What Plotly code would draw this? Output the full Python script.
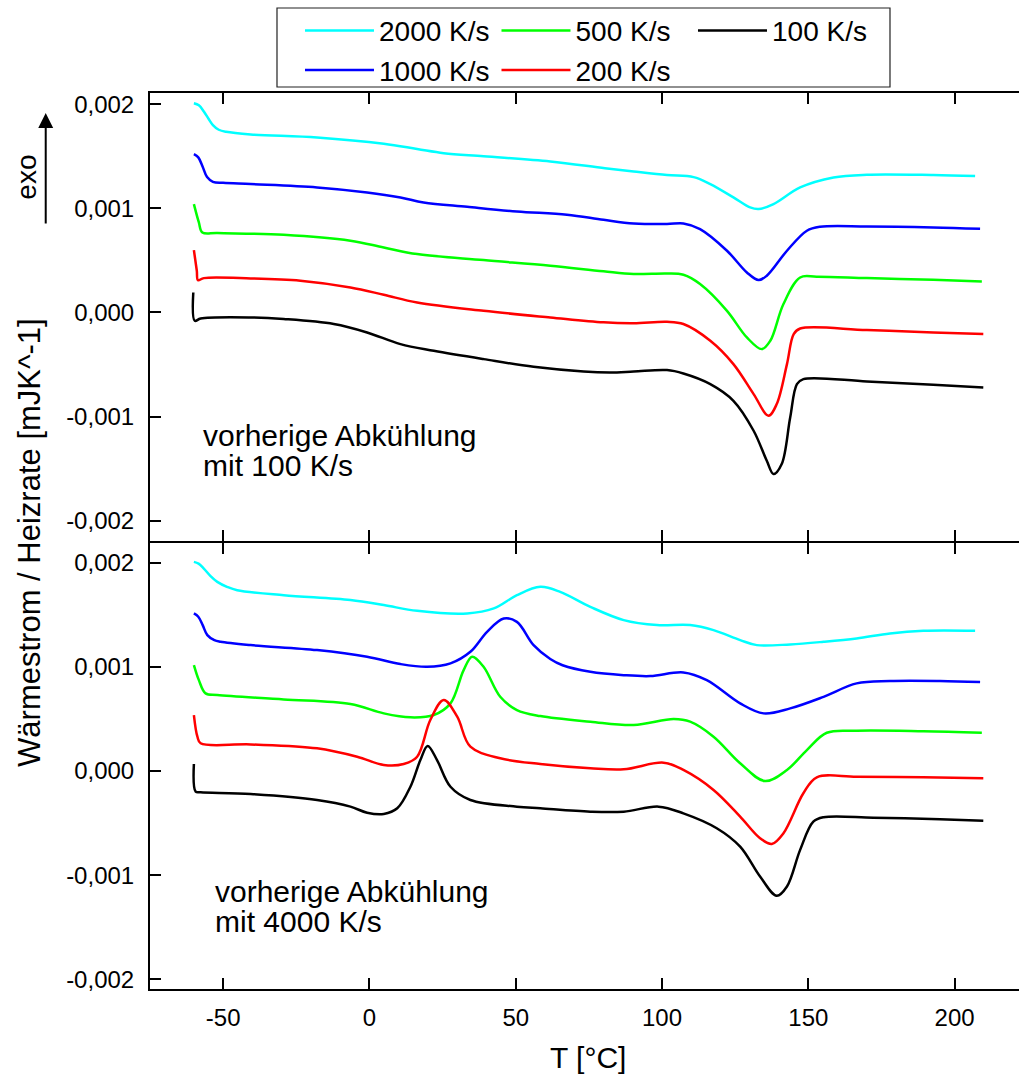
import numpy as np
import plotly.graph_objects as go

# ---- data (heat flow / heating rate in units of 1e-3 mJ/K, temperature in degC) ----
rates = ["2000 K/s", "1000 K/s", "500 K/s", "200 K/s", "100 K/s"]
colors = ["#00FFFF", "#0000FF", "#00FF00", "#FF0000", "#000000"]
groups = ["c1", "c1", "c2", "c2", "c3"]

# upper panel: previous cooling at 100 K/s
top_2000_T = [-60, -58.3, -56.6, -55.0, -53.5, -51.5, -49.0, -40.6, -17.9, 4.9, 16.3, 25.4, 39.0, 61.8, 80.5, 90.3,
              101.7, 110.8, 116.5, 124.4, 130.1, 133.0, 138.1, 147.2, 158.6, 170.0, 192.7, 207.0]
top_2000_y = [2.01, 1.99, 1.93, 1.86, 1.80, 1.755, 1.735, 1.71, 1.68, 1.62, 1.57, 1.53, 1.50, 1.45, 1.385, 1.354,
              1.32, 1.30, 1.233, 1.105, 1.009, 0.993, 1.041, 1.201, 1.297, 1.323, 1.32, 1.31]

top_1000_T = [-60, -58.5, -57.0, -55.5, -53.5, -50.0, -40.6, -17.9, -0.8, 10.6, 18.5, 33.4, 50.4, 67.5, 80.0, 90.3,
              101.7, 107.3, 113.0, 122.2, 129.0, 133.0, 135.8, 142.7, 149.5, 154.0, 170.0, 192.7, 208.7]
top_1000_y = [1.52, 1.49, 1.40, 1.30, 1.255, 1.245, 1.233, 1.201, 1.153, 1.105, 1.057, 1.015, 0.970, 0.939, 0.89, 0.855,
              0.849, 0.855, 0.801, 0.593, 0.384, 0.311, 0.353, 0.593, 0.785, 0.823, 0.826, 0.817, 0.804]

top_500_T = [-60, -58.3, -57.1, -52.0, -29.3, -6.5, 4.9, 16.3, 39.0, 61.8, 80.0, 90.3, 101.7, 107.3,
             113.0, 122.2, 129.0, 134.1, 137.0, 141.5, 147.2, 152.9, 170.0, 192.7, 209.3]
top_500_y = [1.041, 0.865, 0.768, 0.763, 0.746, 0.689, 0.624, 0.561, 0.503, 0.449, 0.395, 0.369, 0.375, 0.362,
             0.273, 0.016, -0.240, -0.352, -0.272, 0.081, 0.336, 0.343, 0.330, 0.314, 0.298]

top_200_T = [-60, -59.0, -58.6, -56.6, -40.6, -23.6, -6.5, 4.9, 16.3, 39.0, 61.8, 80.0, 90.3, 101.7,
             107.3, 116.5, 124.4, 131.3, 136.4, 139.2, 142.7, 145.0, 147.2, 170.0, 192.7, 209.8]
top_200_y = [0.599, 0.401, 0.311, 0.330, 0.327, 0.305, 0.240, 0.170, 0.096, 0.016, -0.048, -0.095, -0.103, -0.090,
             -0.111, -0.272, -0.496, -0.784, -0.992, -0.880, -0.496, -0.207, -0.154, -0.169, -0.192, -0.207]

top_100_T = [-60.2, -59.7, -57.7, -40.6, -29.3, -12.2, -0.8, 10.6, 22.0, 39.0, 56.1, 73.2, 82.3, 90.3,
             101.7, 107.3, 116.5, 124.4, 131.3, 135.8, 138.1, 140.9, 143.8, 146.1, 148.3, 170.0, 192.7, 209.8]
top_100_y = [0.192, -0.080, -0.058, -0.048, -0.063, -0.111, -0.192, -0.304, -0.368, -0.448, -0.522, -0.567, -0.576, -0.567,
             -0.553, -0.586, -0.688, -0.848, -1.136, -1.425, -1.552, -1.456, -1.009, -0.688, -0.640, -0.663, -0.695, -0.720]

# lower panel: previous cooling at 4000 K/s
bot_2000_T = [-60, -58.4, -56.6, -54.3, -52.0, -48.5, -45.2, -29.3, -6.5, 4.9, 16.3, 33.4, 42.5, 50.4, 58.4, 65.2, 75.5,
              86.9, 98.3, 109.6, 117.6, 126.7, 132.4, 143.8, 155.2, 166.5, 177.9, 189.3, 207.0]
bot_2000_y = [2.007, 1.99, 1.943, 1.87, 1.815, 1.765, 1.735, 1.687, 1.640, 1.592, 1.537, 1.512, 1.560, 1.687, 1.767, 1.719, 1.575,
              1.448, 1.400, 1.400, 1.352, 1.256, 1.208, 1.215, 1.240, 1.272, 1.320, 1.345, 1.345]

bot_1000_T = [-60, -58.5, -57.0, -55.4, -53.0, -50.9, -40.6, -17.9, -0.8, 10.6, 19.7, 27.7, 34.5, 40.2, 45.9, 50.4,
              56.1, 61.8, 66.0, 75.5, 86.9, 96.0, 107.3, 115.3, 126.7, 134.7, 143.8, 155.2, 166.5,
              177.9, 195.0, 208.7]
bot_1000_y = [1.512, 1.48, 1.40, 1.304, 1.255, 1.240, 1.208, 1.160, 1.096, 1.026, 1.000, 1.033, 1.144, 1.336, 1.464, 1.431,
              1.208, 1.075, 1.015, 0.952, 0.920, 0.911, 0.946, 0.872, 0.649, 0.553, 0.601, 0.712, 0.841,
              0.863, 0.863, 0.853]

bot_500_T = [-60, -58.3, -56.0, -52.0, -29.3, -6.5, 4.9, 14.0, 22.0, 27.7, 32.2, 35.1, 39.0, 44.7, 50.4,
             58.4, 75.5, 90.3, 104.0, 109.6, 117.6, 126.7, 135.2, 142.7, 149.5, 156.3, 166.5, 189.3, 209.3]
bot_500_y = [1.016, 0.872, 0.745, 0.729, 0.687, 0.642, 0.553, 0.515, 0.537, 0.649, 0.968, 1.096, 1.000, 0.712, 0.585,
             0.527, 0.473, 0.441, 0.499, 0.473, 0.329, 0.074, -0.096, 0.010, 0.201, 0.367, 0.386, 0.381, 0.367]

bot_200_T = [-60, -58.8, -57.7, -40.6, -17.9, -4.2, 4.9, 11.7, 16.3, 20.8, 25.4, 30.0, 34.5, 44.7, 58.4,
             75.5, 86.9, 100.5, 107.3, 117.6, 126.7, 133.5, 137.5, 141.5, 148.3, 152.9, 166.5, 189.3, 209.8]
bot_200_y = [0.537, 0.329, 0.266, 0.255, 0.218, 0.137, 0.058, 0.067, 0.137, 0.489, 0.681, 0.521, 0.233, 0.122, 0.067,
             0.026, 0.016, 0.080, 0.010, -0.182, -0.438, -0.645, -0.700, -0.597, -0.214, -0.060, -0.055, -0.060, -0.070]

bot_100_T = [-60, -59.4, -57.7, -40.6, -17.9, -6.5, -0.8, 4.9, 9.5, 14.0, 17.4, 19.9, 23.1, 27.7, 34.5, 50.4,
             58.4, 75.5, 86.9, 98.8, 107.3, 118.7, 126.7, 133.5, 139.2, 142.7, 147.2, 151.7, 155.2, 172.2, 195.0, 209.8]
bot_100_y = [0.067, -0.198, -0.204, -0.221, -0.278, -0.342, -0.400, -0.412, -0.358, -0.151, 0.105, 0.240, 0.105, -0.151, -0.278, -0.342,
             -0.358, -0.390, -0.390, -0.342, -0.406, -0.549, -0.726, -1.013, -1.198, -1.109, -0.757, -0.486, -0.444, -0.448, -0.463, -0.477]

top_series = [(top_2000_T, top_2000_y), (top_1000_T, top_1000_y), (top_500_T, top_500_y),
              (top_200_T, top_200_y), (top_100_T, top_100_y)]
bot_series = [(bot_2000_T, bot_2000_y), (bot_1000_T, bot_1000_y), (bot_500_T, bot_500_y),
              (bot_200_T, bot_200_y), (bot_100_T, bot_100_y)]

x_ticks = [-50, 0, 50, 100, 150, 200]
x_ticktext = ["-50", "0", "50", "100", "150", "200"]
y_ticks = [-0.002, -0.001, 0.0, 0.001, 0.002]
y_ticktext = ["-0,002", "-0,001", "0,000", "0,001", "0,002"]

FONT = "Liberation Sans, Arial, sans-serif"
UNIT = 1e-3

fig = go.Figure()
for (T, y), name, col, grp in zip(top_series, rates, colors, groups):
    fig.add_trace(go.Scatter(x=T, y=np.array(y) * UNIT, mode="lines", name=name,
                             legendgroup=grp, showlegend=True,
                             line=dict(color=col, width=2.5, shape="spline", smoothing=1.0),
                             xaxis="x2", yaxis="y2"))
for (T, y), name, col, grp in zip(bot_series, rates, colors, groups):
    fig.add_trace(go.Scatter(x=T, y=np.array(y) * UNIT, mode="lines", name=name,
                             legendgroup=grp, showlegend=False,
                             line=dict(color=col, width=2.5, shape="spline", smoothing=1.0),
                             xaxis="x", yaxis="y"))

# the two panels share one frame line: leave a 2 px gap so both axis lines coincide
top_dom = [0.5, 1]
bot_dom = [0, 0.49777]
x_range = [-75, 222.0]
top_range = [-0.002195, 0.002108]
bot_range = [-0.002092, 0.002188]

tick_common = dict(ticks="inside", tickwidth=2, tickcolor="black", showgrid=False, zeroline=False,
                   tickfont=dict(family=FONT, size=24, color="black"))
line_common = dict(showline=True, linewidth=2, linecolor="black")

fig.update_layout(
    width=1019, height=1075,
    margin=dict(l=150, r=0, t=93, b=86, autoexpand=False),
    paper_bgcolor="white", plot_bgcolor="white",
    font=dict(family=FONT, color="black"),
    xaxis=dict(domain=[0, 1], anchor="y", range=x_range, tickvals=x_ticks, ticktext=x_ticktext,
               ticklabelstandoff=6, mirror="ticks", ticklen=11, **line_common, **tick_common),
    xaxis2=dict(domain=[0, 1], anchor="y2", range=x_range, matches="x", tickvals=x_ticks,
                showticklabels=False, mirror="ticks", ticklen=11, **line_common, **tick_common),
    yaxis=dict(domain=bot_dom, anchor="x", range=bot_range, tickvals=y_ticks,
               ticktext=y_ticktext, ticklabelstandoff=9, ticklen=11, **line_common, **tick_common),
    yaxis2=dict(domain=top_dom, anchor="x2", range=top_range, tickvals=y_ticks,
                ticktext=y_ticktext, ticklabelstandoff=9, ticklen=11, **line_common, **tick_common),
    # right-hand tick stubs (frame line itself lies beyond the page edge)
    yaxis3=dict(overlaying="y", side="right", anchor="x", range=bot_range, tickvals=y_ticks,
                showticklabels=False, showline=False, ticklen=5, **tick_common),
    yaxis4=dict(overlaying="y2", side="right", anchor="x2", range=top_range, tickvals=y_ticks,
                showticklabels=False, showline=False, ticklen=5, **tick_common),
    legend=dict(orientation="h", traceorder="grouped", x=0.1726, y=1.0973,
                xanchor="left", yanchor="top", xref="paper", yref="paper",
                font=dict(family=FONT, size=28, color="black"),
                itemwidth=69, entrywidth=112.5, entrywidthmode="pixels",
                bgcolor="rgba(0,0,0,0)", borderwidth=0),
    shapes=[dict(type="rect", xref="paper", yref="paper", x0=0.14614, x1=0.85155,
                 y0=1.0067, y1=1.09487, line=dict(color="#222", width=1.2),
                 fillcolor="rgba(0,0,0,0)", layer="below")],
)

ann_font = dict(family=FONT, size=30, color="black")
annotations = [
    dict(text="vorherige Abkühlung", x=0.0587, y=0.6183, xanchor="left", yanchor="middle"),
    dict(text="mit 100 K/s", x=0.0587, y=0.5848, xanchor="left", yanchor="middle"),
    dict(text="vorherige Abkühlung", x=0.0725, y=0.1086, xanchor="left", yanchor="middle"),
    dict(text="mit 4000 K/s", x=0.0725, y=0.0751, xanchor="left", yanchor="middle"),
    dict(text="T [°C]", x=0.504, y=-0.0770, xanchor="center", yanchor="middle"),
    dict(text="Wärmestrom / Heizrate [mJK^-1]", x=-0.1381, y=0.499, textangle=-90,
         xanchor="center", yanchor="middle", font=dict(family=FONT, size=31, color="black")),
    dict(text="exo", x=-0.1419, y=0.9063, textangle=-90, xanchor="center", yanchor="middle",
         font=dict(family=FONT, size=28, color="black")),
]
for a in annotations:
    a.setdefault("font", ann_font)
    fig.add_annotation(xref="paper", yref="paper", showarrow=False, **a)

# "exo" direction arrow
fig.add_annotation(xref="paper", yref="paper", x=-0.1200, y=0.9777, ax=0, ay=112,
                   text="", showarrow=True, arrowhead=2, arrowsize=1.5, arrowwidth=2,
                   arrowcolor="black")

fig.write_html("out.html")
